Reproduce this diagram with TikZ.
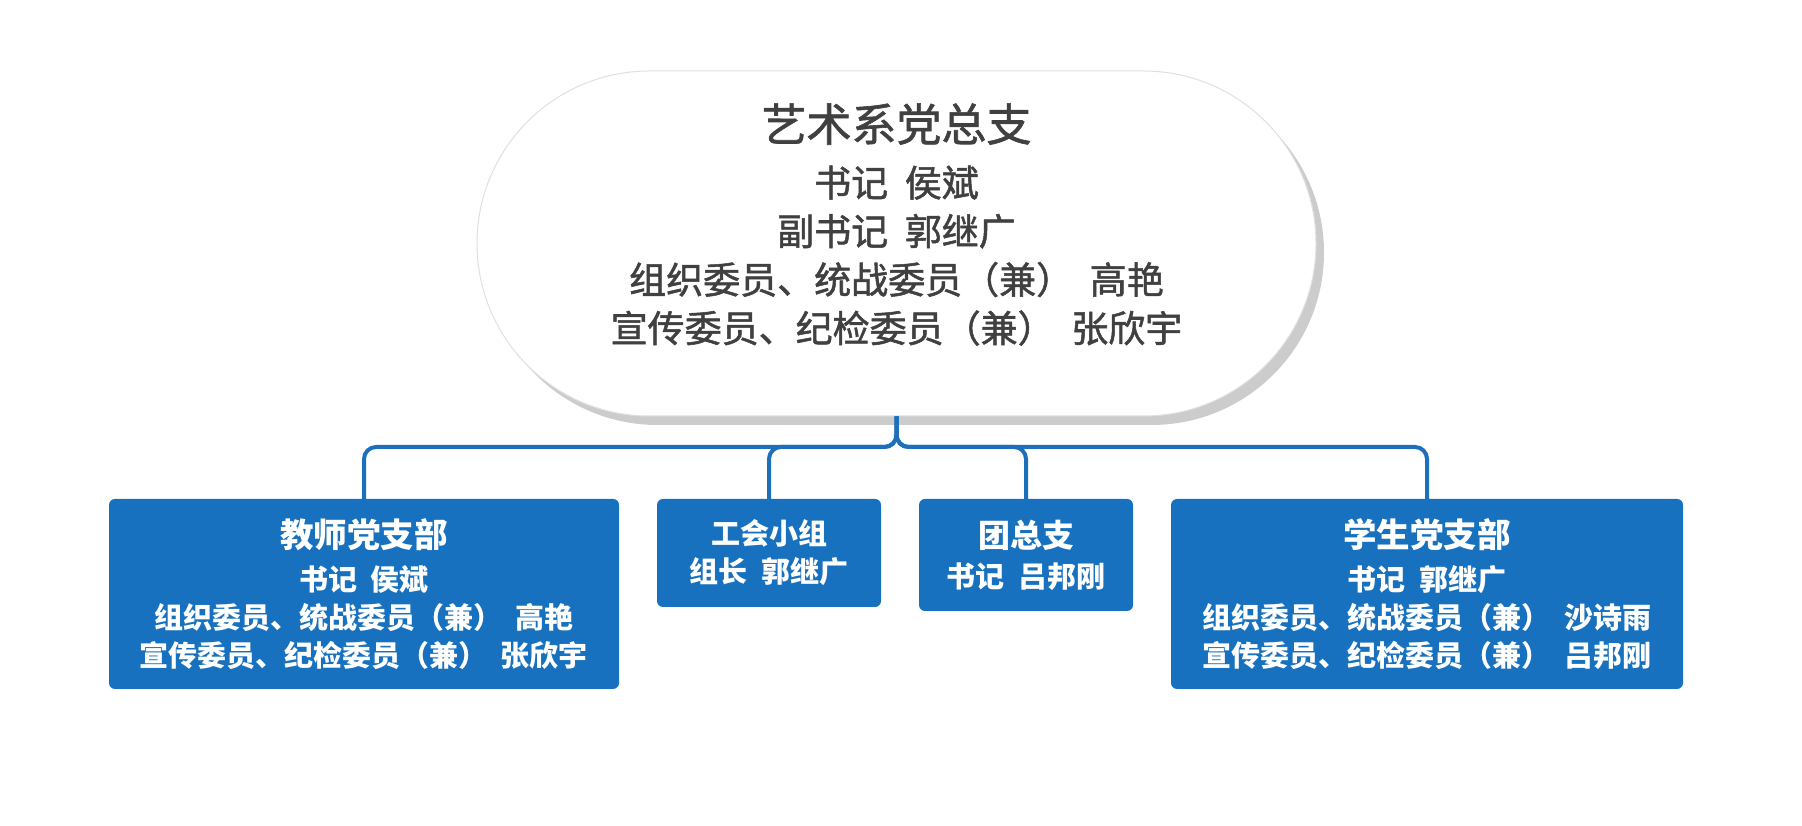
\documentclass[tikz,border=0pt]{standalone}
\usepackage{fontspec}
\newfontfamily\cjk{Noto Sans CJK SC}
\newfontfamily\cjkmid{Noto Sans CJK SC}[FakeBold=1.4]
\usetikzlibrary{shapes.misc,shadows}
\definecolor{boxblue}{HTML}{1771BE}
\definecolor{linkblue}{HTML}{1E6FBB}
\definecolor{txtgray}{HTML}{404040}
\newcommand\mygap{\hspace{0.45em}}
\begin{document}
\begin{tikzpicture}[x=1pt,y=1pt,
  capsule/.style={rounded rectangle, fill=white, draw=black!12, line width=1pt,
    minimum width=839pt, minimum height=345pt, inner sep=0pt,
    drop shadow={shadow xshift=8pt, shadow yshift=-9pt, fill=black, opacity=0.2}},
  captext/.style={font=\cjkmid\fontsize{37}{48.5}\selectfont, text=txtgray, align=center, inner sep=0pt},
  orgbox/.style={fill=boxblue, rounded corners=6pt, text=white, align=center, inner sep=0pt,
    font=\cjk\bfseries\fontsize{29}{38}\selectfont},
  conn/.style={draw=linkblue, line width=4pt, rounded corners=12pt}]
\useasboundingbox (0,0) rectangle (1802,826);
\node[capsule] (top) at (896.5,582.5) {};
\node[captext] (toptext) at (896.5,601.5) {{\fontsize{45}{48.5}\selectfont 艺术系党总支}\\[7pt]
  书记\mygap 侯斌\\
  副书记\mygap 郭继广\\
  组织委员、统战委员（兼）\mygap 高艳\\
  宣传委员、纪检委员（兼）\mygap 张欣宇};
\node[orgbox, minimum width=510pt, minimum height=190pt] (b1) at (364,232)
  {{\fontsize{33.5}{38}\selectfont 教师党支部}\\[5pt]
   书记\mygap 侯斌\\
   组织委员、统战委员（兼）\mygap 高艳\\
   宣传委员、纪检委员（兼）\mygap 张欣宇};
\node[orgbox, minimum width=224pt, minimum height=108pt] (b2) at (769,273)
  {工会小组\\ 组长\mygap 郭继广};
\node[orgbox, minimum width=214pt, minimum height=112pt] (b3) at (1026,271)
  {{\fontsize{32}{38}\selectfont 团总支}\\[2pt] 书记\mygap 吕邦刚};
\node[orgbox, minimum width=512pt, minimum height=190pt] (b4) at (1427,232)
  {{\fontsize{33.5}{38}\selectfont 学生党支部}\\[5pt]
   书记\mygap 郭继广\\
   组织委员、统战委员（兼）\mygap 沙诗雨\\
   宣传委员、纪检委员（兼）\mygap 吕邦刚};
\coordinate (bus) at (0,379);
\foreach \b in {b1,b2,b3,b4}
  \draw[conn] (top.south) -- (top.south |- bus) -- (\b.north |- bus) -- (\b.north);
\end{tikzpicture}
\end{document}
